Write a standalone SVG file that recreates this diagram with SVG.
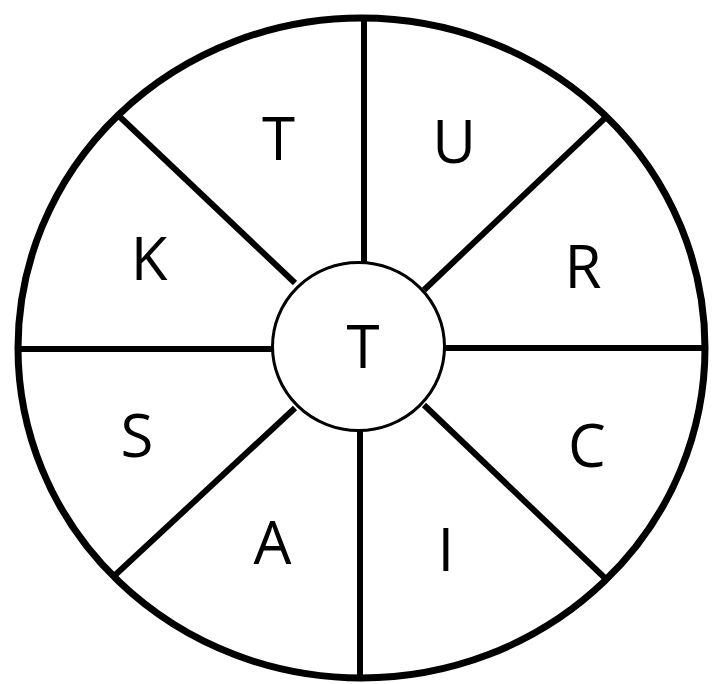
<svg xmlns="http://www.w3.org/2000/svg" width="715" height="684" viewBox="0 0 715 684">
<style>
.spoke{stroke:#000;stroke-width:6;fill:none}
.lbl{font-family:"Open Sans","Liberation Sans",sans-serif;font-size:60px;fill:#000;text-anchor:middle}
</style>
<rect width="715" height="684" fill="#fff"/>
<g id="outer"><ellipse cx="361.5" cy="348" rx="343.5" ry="330" fill="#fff" stroke="#000" stroke-width="7"/></g>
<g id="connectors">
<line class="spoke" x1="364" y1="18" x2="364" y2="263"/>
<line class="spoke" x1="360" y1="430" x2="360" y2="678"/>
<line class="spoke" x1="18" y1="349" x2="272" y2="349"/>
<line class="spoke" x1="445" y1="348" x2="705" y2="348"/>
<line class="spoke" x1="120" y1="117" x2="295" y2="283"/>
<line class="spoke" x1="605" y1="118" x2="424" y2="290"/>
<line class="spoke" x1="113" y1="577" x2="295" y2="408"/>
<line class="spoke" x1="607" y1="580" x2="424" y2="405"/>
</g>
<g id="center"><ellipse cx="358.5" cy="346.5" rx="86" ry="84" fill="#fff" stroke="#000" stroke-width="3"/><text class="lbl" x="363" y="368">T</text></g>
<g id="n-T"><text class="lbl" x="278.5" y="160">T</text></g>
<g id="n-U"><text class="lbl" x="454" y="163">U</text></g>
<g id="n-R"><text class="lbl" x="583" y="288">R</text></g>
<g id="n-C"><text class="lbl" x="587" y="467">C</text></g>
<g id="n-I"><text class="lbl" x="446" y="571">I</text></g>
<g id="n-A"><text class="lbl" x="272.5" y="564">A</text></g>
<g id="n-S"><text class="lbl" x="137" y="457">S</text></g>
<g id="n-K"><text class="lbl" x="149" y="280">K</text></g>
</svg>
